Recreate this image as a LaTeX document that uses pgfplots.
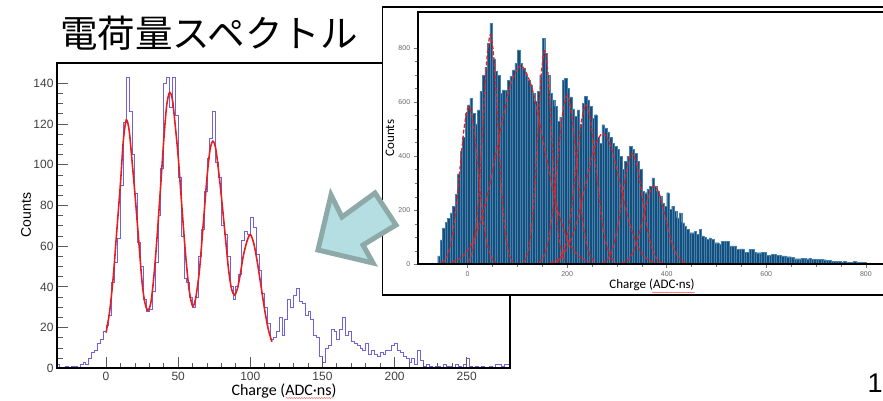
\documentclass[border=0pt]{standalone}
\usepackage{fontspec}
\setmainfont{Liberation Sans}
\newfontfamily\carlito{Carlito}
\newfontfamily\jp{Noto Sans CJK JP}
\usepackage{pgfplots}
\pgfplotsset{compat=1.18}
\usetikzlibrary{decorations.pathmorphing}

\definecolor{histline}{RGB}{112,98,220}
\definecolor{barfill}{RGB}{22,78,122}
\definecolor{baredge}{RGB}{70,128,175}
\definecolor{fitred}{RGB}{230,30,30}
\definecolor{arrowfill}{RGB}{181,222,226}
\definecolor{arrowedge}{RGB}{141,170,168}

\begin{document}
\begin{tikzpicture}[x=1pt,y=1pt]

% left: single-channel spectrum with 4-gaussian fit
\begin{axis}[
  at={(57pt,31.7pt)}, anchor=south west,
  scale only axis, width=453pt, height=305.3pt,
  xmin=-34, xmax=280, ymin=0, ymax=150,
  xtick={0,50,...,250}, ytick={0,20,...,140},
  minor x tick num=4, minor y tick num=3,
  tick align=inside, tick pos=left,
  major tick length=11pt, minor tick length=5.5pt,
  axis line style={line width=2.2pt},
  tick style={black!65, line width=0.8pt},
  ticklabel style={font=\fontsize{12}{12}\selectfont, text=black!75},
  /pgf/number format/assume math mode=true,
  axis on top,
]
\addplot[const plot, histline, line width=0.9pt] coordinates {
(-34,2)(-32,0)(-30,0)(-28,1)(-26,0)(-24,1)(-22,1)(-20,0)(-18,2)(-16,3)
(-14,2)(-12,5)(-10,8)(-8,9)(-6,12)(-4,14)(-2,18)(0,21)(2,26)(4,42)
(6,52)(8,64)(10,90)(12,121)(14,143)(16,126)(18,105)(20,86)(22,62)(24,50)
(26,34)(28,28)(30,29)(32,38)(34,52)(36,75)(38,98)(40,140)(42,143)(44,128)
(46,143)(48,124)(50,94)(52,65)(54,44)(56,42)(58,35)(60,30)(62,35)(64,55)
(66,68)(68,87)(70,103)(72,113)(74,126)(76,101)(78,94)(80,70)(82,66)(84,55)
(86,40)(88,34)(90,40)(92,46)(94,63)(96,67)(98,66)(100,74)(102,69)(104,56)
(106,48)(108,37)(110,30)(112,22)(114,14)(116,15)(118,18)(120,25)(122,16)(124,24)
(126,34)(128,30)(130,36)(132,39)(134,33)(136,32)(138,26)(140,28)(142,24)(144,16)
(146,15)(148,6)(150,3)(152,10)(154,11)(156,19)(158,18)(160,14)(162,19)(164,25)
(166,16)(168,18)(170,13)(172,12)(174,11)(176,10)(178,9)(180,12)(182,7)(184,9)
(186,7)(188,6)(190,8)(192,7)(194,9)(196,9)(198,11)(200,12)(202,9)(204,8)
(206,6)(208,5)(210,3)(212,5)(214,2)(216,9)(218,4)(220,1)(222,2)(224,1)
(226,0)(228,1)(230,1)(232,0)(234,2)(236,1)(238,1)(240,0)(242,2)(244,1)
(246,0)(248,2)(250,5)(252,1)(254,0)(256,1)(258,0)(260,1)(262,0)(264,0)
(266,1)(268,0)(270,2)(272,2)(274,1)(276,2)(278,2)(280,2)
};
\addplot[fitred, line width=1.6pt, smooth] coordinates {
(0,17.5)(2.5,28)(5,45)(7.5,68)(10,91)(12,112)(14,122)(16,117)(18,102)(20,86)
(22.5,64)(25,42)(27,32)(29,28.5)(31,32)(33,44)(35,61)(37.5,86)(40,112)(42,129)
(44,135.5)(46,132)(48,119)(50,104)(52.5,80)(55,57)(57.5,39)(60,30.5)(62,34)(63.5,41)
(65,50)(67.5,72)(70,94)(72,107)(74,111.6)(76,108)(78,97)(80,84)(82.5,66)(85,48)
(87,39)(89,36)(91,39)(93,46)(95,54.7)(97.5,62)(100,65.8)(102.5,61)(105,51.5)(107.5,40)
(110,28.5)(112.5,19)(115,13)
};
\end{axis}

% inset panel background
\filldraw[fill=white, draw=black, line width=1.5pt] (382.7,105) rectangle (900,393);

% right: summed spectrum with fitted components
\begin{axis}[
  at={(417.7pt,135.7pt)}, anchor=south west,
  scale only axis, width=473.1pt, height=252.6pt,
  xmin=-100, xmax=850, ymin=0, ymax=935,
  xtick={0,200,...,800}, ytick={0,200,...,800},
  minor x tick num=3, minor y tick num=3,
  tick align=outside, tick pos=left,
  major tick length=4pt, minor tick length=2.5pt,
  axis line style={line width=2pt},
  tick style={black!55, line width=0.5pt},
  ticklabel style={font=\fontsize{7}{7}\selectfont, text=black!60},
  /pgf/number format/assume math mode=true,
  axis on top,
]
\addplot[ybar interval, fill=barfill, draw=baredge, line width=0.25pt] coordinates {
(-60,31)(-55,90)(-50,135)(-45,155)(-40,170)(-35,190)(-30,215)(-25,260)(-20,335)(-15,418)
(-10,470)(-5,560)(0,590)(5,615)(10,560)(15,520)(20,572)(25,640)(30,700)(35,730)
(40,818)(45,892)(50,760)(55,714)(60,700)(65,634)(70,646)(75,645)(80,680)(85,695)
(90,720)(95,745)(100,794)(105,745)(110,726)(115,702)(120,680)(125,665)(130,634)(135,603)
(140,640)(145,700)(150,837)(155,782)(160,700)(165,634)(170,609)(175,585)(180,530)(185,545)
(190,683)(195,689)(200,652)(205,620)(210,575)(215,548)(220,572)(225,520)(230,597)(235,621)
(240,609)(245,585)(250,540)(255,554)(260,470)(265,449)(270,517)(275,505)(280,490)(285,470)
(290,449)(295,437)(300,425)(305,400)(310,351)(315,382)(320,400)(325,437)(330,425)(335,410)
(340,382)(345,351)(350,271)(355,265)(360,277)(365,289)(370,320)(375,289)(380,270)(385,252)
(390,225)(395,215)(400,265)(405,203)(410,215)(415,197)(420,172)(425,190)(430,154)(435,140)
(440,130)(445,117)(450,117)(455,123)(460,111)(465,129)(470,105)(475,100)(480,92)(485,98)
(490,92)(495,80)(500,80)(505,74)(510,86)(515,86)(520,86)(525,68)(530,68)(535,68)
(540,55)(545,57)(550,57)(555,45)(560,45)(565,55)(570,55)(575,45)(580,43)(585,43)
(590,45)(595,45)(600,33)(605,33)(610,37)(615,37)(620,33)(625,33)(630,31)(635,31)
(640,28)(645,28)(650,25)(655,21)(660,21)(665,21)(670,23)(675,22)(680,20)(685,22)
(690,19)(695,19)(700,19)(705,19)(710,19)(715,17)(720,14)(725,14)(730,10)(735,10)
(740,10)(745,10)(750,8)(755,12)(760,8)(765,8)(770,8)(775,12)(780,9)(785,8)
(790,8)(795,8)(800,0)
};
\pgfplotsset{comp/.style={fitred, line width=1.3pt, dash pattern=on 4pt off 2pt, smooth}}
\addplot[comp] coordinates {(-51,6.5)(-42,25.7)(-33,79)(-24,190)(-15,355)(-6,516)(3,585)(12,516)(21,355)(30,190)(39,79)(48,25.7)(57,6.5)};
\addplot[comp] coordinates {(1,9.4)(8.5,37.3)(16,115)(23.5,276)(31,516)(38.5,750)(46,850)(53.5,750)(61,516)(68.5,276)(76,115)(83.5,37.3)(91,9.4)};
\addplot[comp] coordinates {(-31,8.2)(-8,32.3)(15,99.4)(38,238.6)(61,445.8)(84,648.6)(107,735)(130,648.6)(153,445.8)(176,238.6)(199,99.4)(222,32.3)(245,8.2)};
\addplot[comp] coordinates {(113,8.8)(120,34.7)(127,107)(134,256.5)(141,479)(148,697)(155,790)(162,697)(169,479)(176,256.5)(183,107)(190,34.7)(197,8.8)};
\addplot[comp] coordinates {(143,6.9)(152.5,27.4)(162,84.6)(171.5,203)(181,379)(190.5,551.6)(200,625)(209.5,551.6)(219,379)(228.5,203)(238,84.6)(247.5,27.4)(257,6.9)};
\addplot[comp] coordinates {(178,6.5)(188,25.9)(198,79.8)(208,191.6)(218,357.8)(228,520.7)(238,590)(248,520.7)(258,357.8)(268,191.6)(278,79.8)(288,25.9)(298,6.5)};
\addplot[comp] coordinates {(167,5.4)(184.5,21.3)(202,65.6)(219.5,157.5)(237,294.2)(254.5,428)(272,485)(289.5,428)(307,294.2)(324.5,157.5)(342,65.6)(359.5,21.3)(377,5.4)};
\addplot[comp] coordinates {(271,4.6)(281,18)(291,55.5)(301,133.1)(311,248.7)(321,361.8)(331,410)(341,361.8)(351,248.7)(361,133.1)(371,55.5)(381,18)(391,4.6)};
\addplot[comp] coordinates {(309,3.2)(320,12.7)(331,39.2)(342,94.2)(353,175.9)(364,255.9)(375,290)(386,255.9)(397,175.9)(408,94.2)(419,39.2)(430,12.7)(441,3.2)};
\end{axis}

% labels
\node[rotate=90, font=\fontsize{14}{14}\selectfont] at (26,185) {Counts};
\node[font=\carlito\fontsize{16}{16}\selectfont] at (284,9) {Charge (ADC·ns)};
\node[rotate=90, font=\carlito\fontsize{13}{13}\selectfont] at (390,262) {Counts};
\node[font=\carlito\fontsize{13}{13}\selectfont] at (652,115) {Charge (ADC·ns)};
\draw[red!80, line width=0.35pt, decorate, decoration={snake, amplitude=0.5pt, segment length=2.5pt}] (286,2) -- (333,2);
\draw[red!80, line width=0.35pt, decorate, decoration={snake, amplitude=0.4pt, segment length=2.2pt}] (652,107.5) -- (695,107.5);

% title and page number
\node[anchor=base west, font=\jp\fontsize{37.5}{37.5}\selectfont, inner sep=0pt] at (60,352.5) {電荷量スペクトル};
\node[anchor=base, font=\fontsize{27}{27}\selectfont, inner sep=0pt] at (875,8) {1};

% arrow
\filldraw[fill=arrowfill, draw=arrowedge, line width=5pt, line join=miter]
  (318,150) -- (331,205) -- (342,183) -- (375,207) -- (396,175) -- (363,155) -- (373,137) -- cycle;

\pgfresetboundingbox
\useasboundingbox (0,0) rectangle (883,400);
\end{tikzpicture}
\end{document}
